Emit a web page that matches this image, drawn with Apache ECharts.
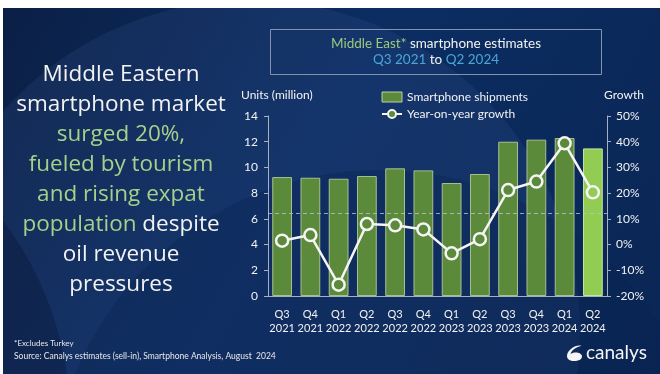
<!DOCTYPE html>
<html>
<head>
<meta charset="utf-8">
<script src="https://cdn.jsdelivr.net/npm/echarts@6/dist/echarts.min.js"></script>
<style>
  html, body { margin: 0; padding: 0; background: #ffffff; }
  #chart { width: 660px; height: 374px; }
</style>
</head>
<body>
<div id="chart"></div>
<script>
// Quarterly Middle East smartphone shipments (million units) and YoY growth (%)
const quarters = ['Q3 2021', 'Q4 2021', 'Q1 2022', 'Q2 2022', 'Q3 2022', 'Q4 2022',
                  'Q1 2023', 'Q2 2023', 'Q3 2023', 'Q4 2023', 'Q1 2024', 'Q2 2024'];
const shipments = [9.25, 9.2, 9.12, 9.33, 9.93, 9.77, 8.79, 9.49, 12.0, 12.16, 12.29, 11.48];
const growth = [1.5, 3.7, -15.6, 8.0, 7.5, 5.9, -3.4, 2.1, 21.2, 24.5, 39.4, 20.3];
const unitTicks = [0, 14, 2];       // min, max, interval
const growthTicks = [-20, 50, 10];  // min, max, interval
const referenceGrowth = 12.2;

const FONT = 'Lato, "Open Sans", sans-serif';
const HEAD_FONT = '"Open Sans", Lato, sans-serif';
const OLIVE = '#5b8a3a';
const LIGHT = '#92cc52';
const AXIS = '#a7b0bf';

const headline = [
  [{ t: 'Middle Eastern', c: 'w' }],
  [{ t: 'smartphone market', c: 'w' }],
  [{ t: 'surged 20%,', c: 'g' }],
  [{ t: 'fueled by tourism', c: 'g' }],
  [{ t: 'and rising expat', c: 'g' }],
  [{ t: 'population', c: 'g' }, { t: ' despite', c: 'w' }],
  [{ t: 'oil revenue', c: 'w' }],
  [{ t: 'pressures', c: 'w' }]
];

// brand mark drawn as an inline svg
const logoSvg = '<svg xmlns="http://www.w3.org/2000/svg" width="18" height="18" viewBox="0 0 18 18">' +
  '<path d="M10,2 C5,4 1,8 1,12 C1,15.5 4,17 8,17 C12.5,17 16,15.5 16,12.5 C16,10 13,8.5 9.5,8.5 ' +
  'C7.5,8.5 5.5,9.2 4.5,10 C5.5,6.5 9,3.5 15.5,1.8 C13.5,1.2 11.5,1.4 10,2 Z" fill="#f5f5f5"/></svg>';
const logoUrl = 'data:image/svg+xml;charset=utf-8,' + encodeURIComponent(logoSvg);

const chart = echarts.init(document.getElementById('chart'), null, { renderer: 'canvas' });

const headlineText = headline.map(line =>
  line.map(p => '{' + p.c + '|' + p.t + '}').join('')).join('\n');

chart.setOption({
  backgroundColor: '#ffffff',
  textStyle: { fontFamily: FONT },
  graphic: [
    // page background
    {
      type: 'rect', z: -10, silent: true,
      shape: { x: 0, y: 0, width: 660, height: 374 },
      style: {
        fill: new echarts.graphic.LinearGradient(0, 0, 1, 1, [
          { offset: 0, color: '#0b1f45' },
          { offset: 0.45, color: '#0b2d62' },
          { offset: 1, color: '#0a2654' }
        ])
      }
    },
    {
      type: 'circle', z: -9, silent: true,
      shape: { cx: 250, cy: 330, r: 330 },
      style: { fill: 'rgba(70,100,160,0.16)' }
    },
    {
      type: 'circle', z: -9, silent: true,
      shape: { cx: 380, cy: 500, r: 330 },
      style: { fill: 'rgba(10,35,80,0.35)' }
    },
    {
      type: 'circle', z: -9, silent: true,
      shape: { cx: -260, cy: 420, r: 330 },
      style: { fill: 'rgba(5,20,50,0.35)' }
    },
    // white page margins
    {
      type: 'rect', z: -8, silent: true,
      shape: { x: 0, y: 0, width: 660, height: 8 },
      style: { fill: '#ffffff' }
    },
    {
      type: 'rect', z: -8, silent: true,
      shape: { x: 0, y: 0, width: 3, height: 374 },
      style: { fill: '#ffffff' }
    },
    // headline
    {
      type: 'text', silent: true,
      x: 121, y: 60,
      style: {
        text: headlineText,
        align: 'center', verticalAlign: 'top',
        rich: {
          w: { fill: '#f2f2f2', fontSize: 22.5, fontFamily: HEAD_FONT, lineHeight: 30 },
          g: { fill: '#a6d08a', fontSize: 22.5, fontFamily: HEAD_FONT, lineHeight: 30 }
        }
      }
    },
    // title box
    {
      type: 'rect', silent: true,
      shape: { x: 270.5, y: 29.5, width: 331, height: 45 },
      style: { fill: 'rgba(0,0,0,0)', stroke: '#8193ad', lineWidth: 1 }
    },
    {
      type: 'text', silent: true,
      x: 436, y: 52,
      style: {
        text: '{g|Middle East*}{w| smartphone estimates}\n{b|Q3 2021}{w| to }{b|Q2 2024}',
        align: 'center', verticalAlign: 'middle',
        rich: {
          g: { fill: '#9cc97c', fontSize: 13.5, fontFamily: FONT, lineHeight: 16 },
          w: { fill: '#f2f2f2', fontSize: 13.5, fontFamily: FONT, lineHeight: 16 },
          b: { fill: '#4aa6d8', fontSize: 13.5, fontFamily: FONT, lineHeight: 16 }
        }
      }
    },
    // axis captions
    {
      type: 'text', silent: true, x: 241, y: 95,
      style: { text: 'Units (million)', fill: '#f2f2f2', fontSize: 12, fontFamily: FONT, verticalAlign: 'middle' }
    },
    {
      type: 'text', silent: true, x: 644, y: 95,
      style: { text: 'Growth', fill: '#f2f2f2', fontSize: 12, fontFamily: FONT, align: 'right', verticalAlign: 'middle' }
    },
    // footnotes
    {
      type: 'text', silent: true, x: 14, y: 343,
      style: { text: '*Excludes Turkey', fill: '#e8e8e8', fontSize: 8, fontFamily: FONT, verticalAlign: 'middle' }
    },
    {
      type: 'text', silent: true, x: 14, y: 356,
      style: { text: 'Source: Canalys estimates (sell-in), Smartphone Analysis, August  2024', fill: '#e8e8e8', fontSize: 8.5, fontFamily: FONT, verticalAlign: 'middle' }
    },
    // brand mark
    {
      type: 'image', silent: true,
      style: { image: logoUrl, x: 566, y: 344, width: 18, height: 18 }
    },
    {
      type: 'text', silent: true, x: 586, y: 353,
      style: { text: 'canalys', fill: '#f5f5f5', fontSize: 19, fontFamily: FONT, verticalAlign: 'middle' }
    }
  ],
  legend: {
    orient: 'vertical',
    left: 376, top: 86,
    itemGap: 5,
    itemWidth: 20, itemHeight: 10,
    textStyle: { color: '#f2f2f2', fontSize: 12, fontFamily: FONT },
    data: [
      { name: 'Smartphone shipments', icon: 'rect',
        itemStyle: { color: OLIVE, borderColor: '#b9cfa6', borderWidth: 1 } },
      { name: 'Year-on-year growth' }
    ]
  },
  grid: { left: 268, right: 53, top: 116, bottom: 78, containLabel: false },
  xAxis: {
    type: 'category',
    data: quarters,
    axisLine: { lineStyle: { color: AXIS, width: 1 } },
    axisTick: { show: false },
    axisLabel: {
      interval: 0, hideOverlap: false,
      color: '#f2f2f2', fontSize: 11, fontFamily: FONT, lineHeight: 14, margin: 11,
      formatter: v => v.replace(' ', '\n')
    }
  },
  yAxis: [
    {
      type: 'value', min: unitTicks[0], max: unitTicks[1], interval: unitTicks[2],
      axisLine: { show: true, lineStyle: { color: AXIS } },
      axisTick: { show: true, inside: false, length: 4, lineStyle: { color: AXIS } },
      splitLine: { show: false },
      axisLabel: { color: '#f2f2f2', fontSize: 12, fontFamily: FONT, margin: 10 }
    },
    {
      type: 'value', min: growthTicks[0], max: growthTicks[1], interval: growthTicks[2],
      position: 'right',
      axisLine: { show: true, lineStyle: { color: AXIS } },
      axisTick: { show: true, inside: false, length: 4, lineStyle: { color: AXIS } },
      splitLine: { show: false },
      axisLabel: { color: '#f2f2f2', fontSize: 12, fontFamily: FONT, margin: 9, formatter: v => v + '%' }
    }
  ],
  series: [
    {
      name: 'Smartphone shipments',
      type: 'bar',
      yAxisIndex: 0,
      barCategoryGap: '30%',
      data: shipments.map((v, i) => i === shipments.length - 1
        ? { value: v, itemStyle: { color: LIGHT, borderColor: '#c5e3a3' } }
        : v),
      itemStyle: { color: OLIVE, borderColor: '#a8bf94', borderWidth: 1 },
      z: 2
    },
    {
      name: 'Year-on-year growth',
      type: 'line',
      yAxisIndex: 1,
      data: growth.map((v, i) => i === growth.length - 1
        ? { value: v, itemStyle: { color: LIGHT } }
        : v),
      symbol: 'circle',
      symbolSize: 12,
      lineStyle: { color: '#f5f5f5', width: 2.5 },
      itemStyle: { color: OLIVE, borderColor: '#f5f5f5', borderWidth: 2.5 },
      markLine: {
        silent: true,
        symbol: 'none',
        label: { show: false },
        lineStyle: { color: '#b8c2d2', type: [4, 3], width: 1, opacity: 0.8 },
        data: [{ yAxis: referenceGrowth }]
      },
      z: 5
    }
  ]
});
</script>
</body>
</html>
